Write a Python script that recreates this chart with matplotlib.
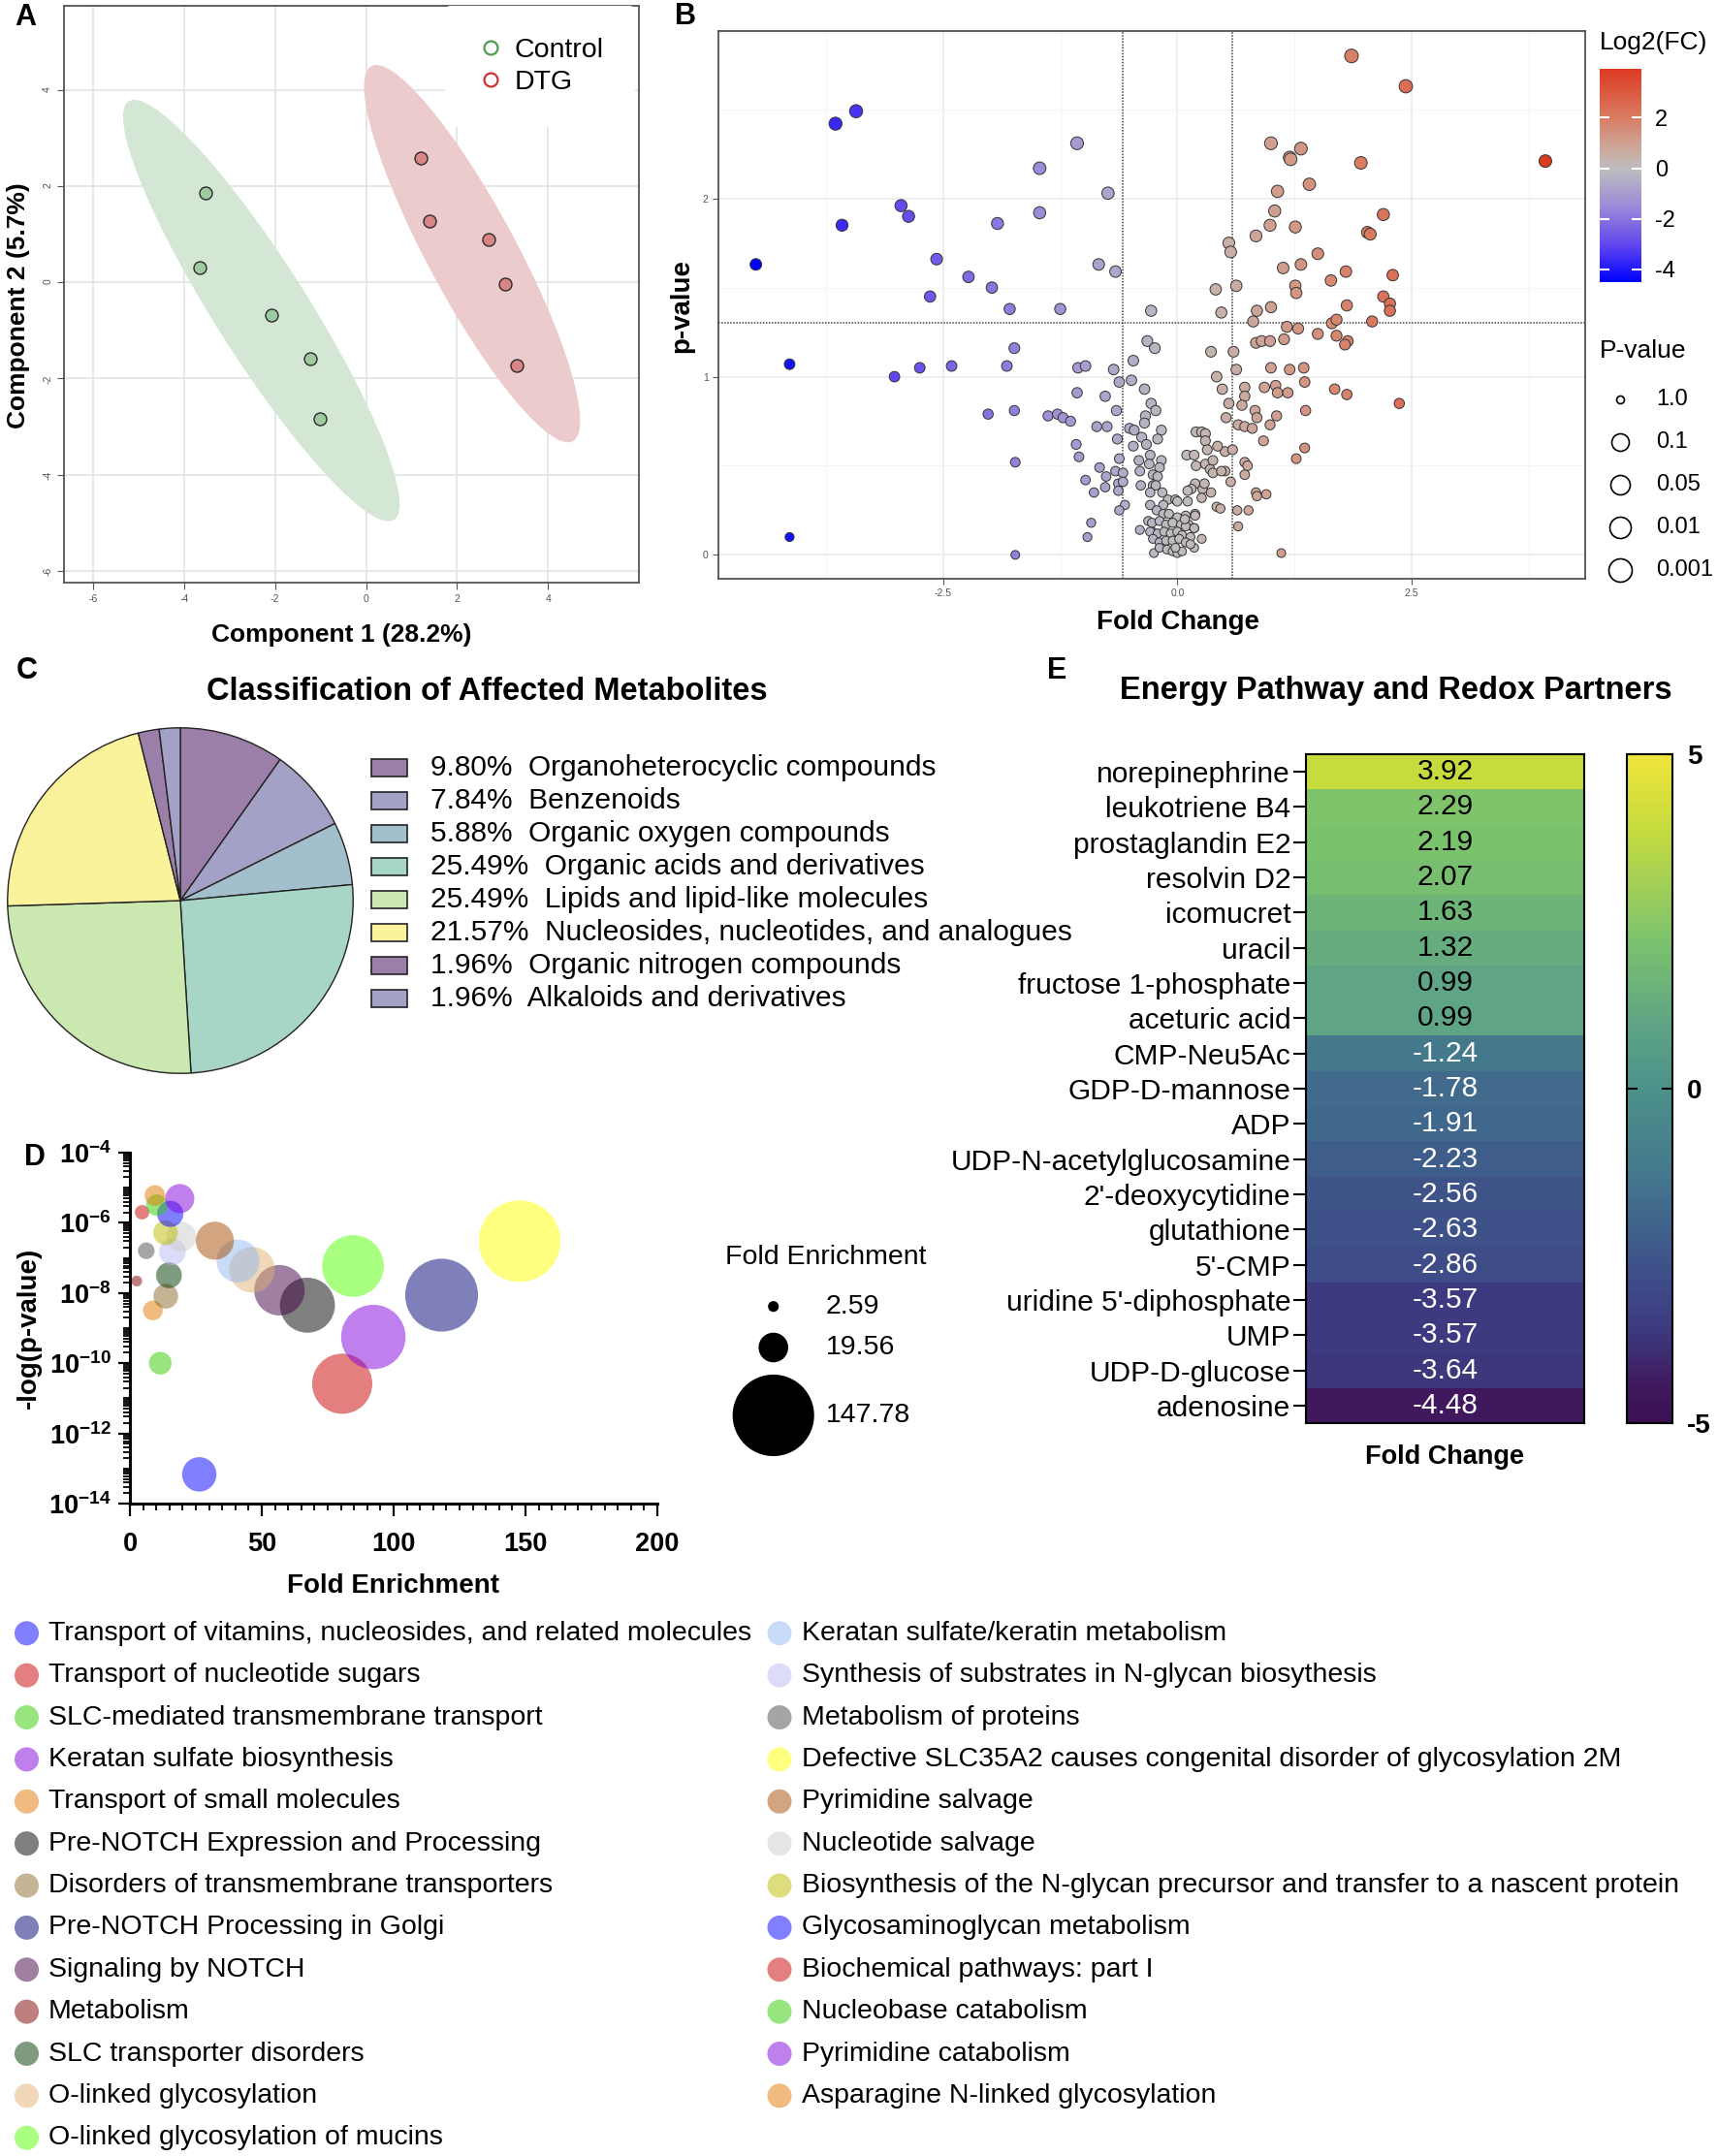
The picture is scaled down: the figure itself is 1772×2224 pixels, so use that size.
import numpy as np
import matplotlib
matplotlib.use("Agg")
import matplotlib.pyplot as plt
from matplotlib.patches import Ellipse, Rectangle
from matplotlib.colors import LinearSegmentedColormap, Normalize
from matplotlib.lines import Line2D
import matplotlib.ticker as mticker

plt.rcParams['font.family'] = ['Liberation Sans', 'DejaVu Sans']
plt.rcParams['mathtext.fontset'] = 'custom'
plt.rcParams['mathtext.rm'] = 'Liberation Sans'
plt.rcParams['mathtext.bf'] = 'Liberation Sans:bold'
plt.rcParams['axes.unicode_minus'] = False

# ======================= DATA =======================
# A: PLS-DA scores
control_comp1 = [-3.53, -3.65, -2.07, -1.23, -1.02]
control_comp2 = [1.86, 0.30, -0.68, -1.59, -2.83]
dtg_comp1 = [1.20, 1.40, 2.69, 3.05, 3.32]
dtg_comp2 = [2.58, 1.27, 0.89, -0.03, -1.73]
group_names = ["Control", "DTG"]
comp1_label = "Component 1 (28.2%)"
comp2_label = "Component 2 (5.7%)"

# B: volcano (log2 fold change, -log10 p)
volcano_log2fc = [
    -3.43, -3.65, -1.07, -1.47, -0.74, -2.95, -2.87, -3.58, -1.92, -1.47,
    -4.50, -2.57, -0.84, -0.66, -2.23, -1.98, -2.64, -1.79, -1.25, -0.28,
    -4.14, -3.02, -2.75, -2.41, -1.82, -1.74, -2.02, -1.74, -1.38, -1.28,
    -1.22, -1.14, -1.73, -4.14, -1.73, -1.06, -0.98, -0.68, -0.47, -0.32,
    -0.24, -0.62, -0.49, -1.07, -0.77, -0.35, -0.65, -0.28, -0.23, -0.34,
    -0.35, -0.86, -0.75, -0.51, -0.46, -0.64, -0.47, -0.38, -0.33, -1.08,
    -1.05, -0.62, -0.41, -0.29, -0.30, -0.83, -0.66, -0.76, -0.58, -0.40,
    -0.98, -0.63, -0.58, -0.77, -0.63, -0.89, -0.39, -0.26, -0.56, -0.62,
    -0.92, -0.96, -0.40, -0.27, -0.25, -0.18, -0.31,
    -0.17, -0.21, -0.17, -0.19, -0.26, -0.21, -0.23, -0.29, -0.16, -0.10,
    -0.02, -0.15, -0.29, -0.22, -0.15, -0.09, 0.00, 0.09, 0.19, -0.27,
    -0.19, -0.12, -0.05, 0.04, 0.12, 0.18, -0.29, -0.21, -0.14, -0.07,
    0.00, 0.05, 0.14, -0.26, -0.19, -0.12, -0.05, 0.02, 0.09, 0.18,
    -0.19, -0.11, -0.05, 0.00, 0.05, -0.02, 0.27, 0.11, 0.14, 0.09,
    0.51, 0.51,
    1.86, 2.44, 3.93, 1.00, 1.32, 1.20, 1.21, 1.96, 1.41, 1.07,
    1.04, 0.99, 1.26, 0.84, 2.20, 2.03, 2.06, 0.55, 0.57, 1.50,
    1.13, 1.32, 1.80, 1.64, 2.30, 0.41, 0.63, 1.26, 1.27, 2.20,
    2.27, 2.27, 1.81, 1.00, 0.85, 0.47,
    0.81, 1.65, 1.70, 2.08, 1.17, 1.29, 1.50, 1.70, 1.82, 1.79,
    1.14, 0.84, 0.90, 0.99, 0.36, 0.60, 0.63, 1.00, 1.20, 1.35,
    1.36, 0.42, 0.48, 0.72, 0.72, 0.93, 1.05, 1.07, 1.18, 1.68,
    1.81, 2.37, 0.55, 0.69, 0.83, 0.85, 1.06, 1.37, 0.52, 0.65,
    0.72, 0.80, 0.99, 0.59, 0.43, 0.92, 1.36, 1.27, 0.72, 0.75,
    0.72, 0.57, 0.84, 0.95, 0.85, 0.64, 0.76, 0.65, 1.11, 0.20,
    0.26, 0.30, 0.30, 0.32, 0.10, 0.18, 0.20, 0.30, 0.38, 0.35,
    0.38, 0.47, 0.19, 0.29, 0.15, 0.11, 0.26, 0.36, 0.42, 0.46,
    0.19, 0.08, 0.18, 0.26, 0.00,
]
volcano_neglog10p = [
    2.49, 2.42, 2.31, 2.17, 2.03, 1.96, 1.90, 1.85, 1.86, 1.92,
    1.63, 1.66, 1.63, 1.59, 1.56, 1.50, 1.45, 1.38, 1.38, 1.37,
    1.07, 1.00, 1.05, 1.06, 1.06, 1.16, 0.79, 0.81, 0.78, 0.79,
    0.77, 0.75, 0.52, 0.10, 0.00, 1.05, 1.06, 1.04, 1.09, 1.20,
    1.16, 0.97, 0.98, 0.91, 0.89, 0.93, 0.81, 0.85, 0.81, 0.78,
    0.74, 0.72, 0.72, 0.71, 0.70, 0.65, 0.61, 0.66, 0.62, 0.62,
    0.55, 0.54, 0.53, 0.56, 0.51, 0.49, 0.47, 0.44, 0.46, 0.47,
    0.42, 0.40, 0.41, 0.38, 0.36, 0.35, 0.39, 0.39, 0.28, 0.25,
    0.18, 0.10, 0.14, 0.13, 0.01, 0.05, 0.19,
    0.70, 0.65, 0.53, 0.49, 0.45, 0.44, 0.39, 0.35, 0.35, 0.31,
    0.31, 0.28, 0.28, 0.25, 0.23, 0.23, 0.21, 0.22, 0.23, 0.18,
    0.19, 0.17, 0.18, 0.17, 0.17, 0.15, 0.13, 0.12, 0.13, 0.12,
    0.13, 0.11, 0.10, 0.09, 0.07, 0.08, 0.08, 0.09, 0.07, 0.04,
    0.04, 0.03, 0.02, 0.01, 0.02, 0.04, 0.37, 0.30, 0.06, 0.16,
    0.47, 0.58,
    2.80, 2.63, 2.21, 2.31, 2.28, 2.23, 2.22, 2.20, 2.08, 2.04,
    1.93, 1.85, 1.84, 1.79, 1.91, 1.81, 1.80, 1.75, 1.70, 1.69,
    1.61, 1.63, 1.59, 1.54, 1.57, 1.49, 1.51, 1.51, 1.47, 1.45,
    1.41, 1.37, 1.40, 1.39, 1.37, 1.36,
    1.31, 1.30, 1.32, 1.31, 1.28, 1.27, 1.24, 1.23, 1.20, 1.18,
    1.21, 1.19, 1.20, 1.20, 1.14, 1.14, 1.04, 1.05, 1.04, 1.05,
    0.97, 1.00, 0.93, 0.94, 0.89, 0.94, 0.95, 0.91, 0.91, 0.93,
    0.90, 0.85, 0.85, 0.84, 0.81, 0.77, 0.78, 0.81, 0.77, 0.73,
    0.72, 0.71, 0.73, 0.59, 0.61, 0.64, 0.60, 0.54, 0.52, 0.50,
    0.45, 0.41, 0.35, 0.34, 0.33, 0.25, 0.25, 0.16, 0.01, 0.69,
    0.69, 0.68, 0.64, 0.59, 0.56, 0.56, 0.50, 0.51, 0.53, 0.48,
    0.46, 0.47, 0.40, 0.40, 0.37, 0.36, 0.32, 0.35, 0.27, 0.26,
    0.22, 0.20, 0.15, 0.09, 0.30,
]
fc_cutoff = 1.5
p_cutoff = 0.05
log2fc_ticks = [-4, -2, 0, 2]
pvalue_legend = ["1.0", "0.1", "0.05", "0.01", "0.001"]

# C: classification
class_names = ["Organoheterocyclic compounds", "Benzenoids", "Organic oxygen compounds",
               "Organic acids and derivatives", "Lipids and lipid-like molecules",
               "Nucleosides, nucleotides, and analogues", "Organic nitrogen compounds",
               "Alkaloids and derivatives"]
class_pct = [9.80, 7.84, 5.88, 25.49, 25.49, 21.57, 1.96, 1.96]

# D: pathway enrichment
pathway_names = [
    "Transport of vitamins, nucleosides, and related molecules",
    "Transport of nucleotide sugars",
    "SLC-mediated transmembrane transport",
    "Keratan sulfate biosynthesis",
    "Transport of small molecules",
    "Pre-NOTCH Expression and Processing",
    "Disorders of transmembrane transporters",
    "Pre-NOTCH Processing in Golgi",
    "Signaling by NOTCH",
    "Metabolism",
    "SLC transporter disorders",
    "O-linked glycosylation",
    "O-linked glycosylation of mucins",
    "Keratan sulfate/keratin metabolism",
    "Synthesis of substrates in N-glycan biosythesis",
    "Metabolism of proteins",
    "Defective SLC35A2 causes congenital disorder of glycosylation 2M",
    "Pyrimidine salvage",
    "Nucleotide salvage",
    "Biosynthesis of the N-glycan precursor and transfer to a nascent protein",
    "Glycosaminoglycan metabolism",
    "Biochemical pathways: part I",
    "Nucleobase catabolism",
    "Pyrimidine catabolism",
    "Asparagine N-linked glycosylation",
]
pathway_fold_enrichment = [26.3, 80.5, 11.5, 92.3, 8.7, 67.3, 13.6, 118.2, 56.7, 2.59,
                           14.8, 46.3, 84.6, 41.0, 16.1, 6.2, 147.78, 32.2, 19.56, 13.5,
                           15.3, 4.6, 10.2, 18.9, 9.5]
pathway_pvalue = [6.8e-14, 2.6e-11, 1.0e-10, 5.6e-10, 3.2e-9, 4.5e-9, 8.1e-9, 8.7e-9, 1.2e-8, 2.2e-8,
                  3.2e-8, 4.6e-8, 5.9e-8, 8.1e-8, 1.5e-7, 1.6e-7, 3.0e-7, 3.1e-7, 4.0e-7, 5.2e-7,
                  1.8e-6, 2.0e-6, 3.2e-6, 4.9e-6, 6.0e-6]
fe_legend = [2.59, 19.56, 147.78]

# E: energy pathway heatmap
metabolites = ["norepinephrine", "leukotriene B4", "prostaglandin E2", "resolvin D2", "icomucret",
               "uracil", "fructose 1-phosphate", "aceturic acid", "CMP-Neu5Ac", "GDP-D-mannose",
               "ADP", "UDP-N-acetylglucosamine", "2'-deoxycytidine", "glutathione", "5'-CMP",
               "uridine 5'-diphosphate", "UMP", "UDP-D-glucose", "adenosine"]
metabolite_fc = [3.92, 2.29, 2.19, 2.07, 1.63, 1.32, 0.99, 0.99, -1.24, -1.78,
                 -1.91, -2.23, -2.56, -2.63, -2.86, -3.57, -3.57, -3.64, -4.48]
heat_range = (-5, 5)

# ======================= STYLE =======================
class_colors = ['#9b7fa8', '#a3a1c5', '#a3bfcb', '#a8d6c6', '#cbe8b0', '#fbf29c', '#9b7fa8', '#a3a1c5']
pathway_colors = ['#0000ff', '#c80000', '#33cc00', '#8000dd', '#e07800', '#000000', '#8a6a28',
                  '#000077', '#410047', '#7f0000', '#003800', '#e1b171', '#55ff00', '#92baf2',
                  '#babaf5', '#4d4d4d', '#ffff00', '#a74b00', '#cccccc', '#bdbd00', '#0000ff',
                  '#c80000', '#33cc00', '#8000dd', '#e07800']
BUBBLE_ALPHA = 0.5
BUBBLE_SCALE = 24.8  # points^2 per fold-enrichment unit
# muted viridis-like scale used by the heatmap (position in [0,1], colour)
heat_cmap = LinearSegmentedColormap.from_list('muted_viridis', [
    (0.00, '#3b0f53'), (0.052, '#40195e'), (0.14, '#3d3a7f'), (0.21, '#3e4c88'),
    (0.28, '#3f5f8c'), (0.38, '#457a8d'), (0.50, '#4c918a'), (0.60, '#5fa585'),
    (0.66, '#6db479'), (0.72, '#7bc26e'), (0.89, '#c6db3e'), (1.00, '#efe43a')])

W, H, DPI = 1772, 2224, 100
PT = 72.0 / DPI
fig = plt.figure(figsize=(W / DPI, H / DPI), dpi=DPI)
fig.patch.set_facecolor('white')


def px_box(l, t, r, b):
    return [l / W, 1 - b / H, (r - l) / W, (b - t) / H]


# ======================= PANEL A =======================
axA = fig.add_axes(px_box(66, 6, 659, 601))


def conf_ellipse(x, y, **kw):
    x = np.asarray(x, float)
    y = np.asarray(y, float)
    vals, vecs = np.linalg.eigh(np.cov(x, y))
    order = vals.argsort()[::-1]
    vals, vecs = vals[order], vecs[:, order]
    angle = np.degrees(np.arctan2(vecs[1, 0], vecs[0, 0]))
    k = np.sqrt(5.991)  # 95% chi-square, 2 dof
    return Ellipse((x.mean(), y.mean()), 2 * k * np.sqrt(vals[0]), 2 * k * np.sqrt(vals[1]),
                   angle=angle, **kw)


axA.add_patch(conf_ellipse(control_comp1, control_comp2, facecolor='#d4e6d4', edgecolor='none', zorder=1))
axA.add_patch(conf_ellipse(dtg_comp1, dtg_comp2, facecolor='#ebcbcb', edgecolor='none', zorder=1))
axA.scatter(control_comp1, control_comp2, s=(13 * PT) ** 2, c='#9fc99f', edgecolors='#2b2b2b',
            linewidths=1.0, zorder=3)
axA.scatter(dtg_comp1, dtg_comp2, s=(13 * PT) ** 2, c='#d98585', edgecolors='#2b2b2b',
            linewidths=1.0, zorder=3)
axA.set_xlim(-6.64, 6.0)
axA.set_ylim(-6.245, 5.75)
axA.set_xticks(np.arange(-6, 5, 2))
axA.set_yticks(np.arange(-6, 5, 2))
axA.grid(True, color='#e3e3e3', lw=1.2)
axA.set_axisbelow(True)
axA.tick_params(labelsize=7.5, colors='#555555', length=5)
axA.tick_params(axis='y', labelrotation=90)
for sp in axA.spines.values():
    sp.set_color('#555555')
    sp.set_linewidth(1.3)
axA.set_xlabel(comp1_label, fontsize=19, fontweight='bold')
axA.xaxis.set_label_coords((352.7 - 66) / 593, (601 - 655) / 595)
axA.xaxis.label.set_va('center')
axA.set_ylabel(comp2_label, fontsize=19, fontweight='bold')
axA.yaxis.set_label_coords((18.7 - 66) / 593, (601 - 315) / 595)
axA.yaxis.label.set_va('center')
hA = [Line2D([], [], marker='o', ls='', mfc='none', mec='#4f9a4f', mew=1.6, ms=10, label=group_names[0]),
      Line2D([], [], marker='o', ls='', mfc='none', mec='#cc3333', mew=1.6, ms=10, label=group_names[1])]
legA = axA.legend(handles=hA, loc='upper right', bbox_to_anchor=((655 - 66) / 593, 1.0),
                  borderaxespad=0.0, fontsize=20.5, frameon=True, facecolor='white', edgecolor='none',
                  framealpha=1, handletextpad=0.35, labelspacing=0.25, borderpad=1.15, handlelength=1.0)

# ======================= PANEL B =======================
axB = fig.add_axes(px_box(741, 32, 1635, 597))
fc = np.array(volcano_log2fc)
nlp = np.array(volcano_neglog10p)
vmin, vmax = fc.min(), fc.max()
anchor_vals = [vmin, -3.0, -1.5, 0.0, 1.0, 2.0, vmax]
anchor_cols = ['#0000ff', '#6448ee', '#9c8ad8', '#bebebe', '#d0a192', '#d97c62', '#dd3a22']
cmapB = LinearSegmentedColormap.from_list(
    'volc', [((v - vmin) / (vmax - vmin), c) for v, c in zip(anchor_vals, anchor_cols)])
normB = Normalize(vmin, vmax)
sizesB = ((9 + 1.8 * nlp) * PT) ** 2
scB = axB.scatter(fc, nlp, c=fc, cmap=cmapB, norm=normB, s=sizesB, edgecolors='#333333',
                  linewidths=0.7, zorder=3)
for xv in (-np.log2(fc_cutoff), np.log2(fc_cutoff)):
    axB.axvline(xv, color='#444444', ls=(0, (1, 1)), lw=1.1, zorder=2)
axB.axhline(-np.log10(p_cutoff), color='#444444', ls=(0, (1, 1)), lw=1.1, zorder=2)
axB.set_xlim(-4.90, 4.355)
axB.set_ylim(-0.134, 2.94)
axB.set_xticks([-2.5, 0, 2.5])
axB.set_yticks([0, 1, 2])
axB.xaxis.set_major_formatter(mticker.FormatStrFormatter('%.1f'))
axB.xaxis.set_minor_locator(mticker.MultipleLocator(1.25))
axB.yaxis.set_minor_locator(mticker.MultipleLocator(0.5))
axB.grid(which='major', color='#ebebeb', lw=1.2)
axB.grid(which='minor', color='#f4f4f4', lw=0.8)
axB.set_axisbelow(True)
axB.tick_params(which='minor', length=0)
axB.tick_params(labelsize=7.5, colors='#555555', length=4)
for sp in axB.spines.values():
    sp.set_color('#444444')
    sp.set_linewidth(1.2)
axB.set_xlabel("Fold Change", fontsize=20, fontweight='bold')
axB.xaxis.set_label_coords((1214.8 - 741) / 894, (597 - 642) / 565)
axB.xaxis.label.set_va('center')
axB.set_ylabel("p-value", fontsize=20, fontweight='bold')
axB.yaxis.set_label_coords((703 - 741) / 894, (597 - 315) / 565)
axB.yaxis.label.set_va('center')

caxB = fig.add_axes(px_box(1650, 71, 1693, 291))
cbB = fig.colorbar(scB, cax=caxB, ticks=log2fc_ticks)
cbB.outline.set_visible(False)
caxB.tick_params(direction='in', color='white', width=1.5, length=7, labelsize=17,
                 left=True, right=True, pad=10)

# ======================= PANEL C =======================
axC = fig.add_axes(px_box(6, 749, 366, 1109))
wedgesC, _ = axC.pie(class_pct, colors=class_colors, startangle=90, counterclock=False,
                     wedgeprops=dict(edgecolor='#222222', linewidth=1.0))
axC.set_xlim(-1.01, 1.01)
axC.set_ylim(-1.01, 1.01)
axC.set_aspect('equal')
axC.axis('off')

# ======================= PANEL D =======================
axD = fig.add_axes(px_box(134, 1189, 678, 1551))
fe = np.array(pathway_fold_enrichment)
axD.scatter(fe, pathway_pvalue, s=fe * BUBBLE_SCALE, c=pathway_colors, alpha=BUBBLE_ALPHA,
            edgecolors='none', clip_on=False, zorder=3)
axD.set_yscale('log')
axD.set_xlim(0, 200)
axD.set_ylim(1e-14, 1e-4)
for s in ('top', 'right'):
    axD.spines[s].set_visible(False)
for s in ('left', 'bottom'):
    axD.spines[s].set_linewidth(2.2)
xt = [0, 50, 100, 150, 200]
axD.set_xticks(xt, labels=[str(v) for v in xt], fontweight='bold', fontsize=19.5)
yexp = [-14, -12, -10, -8, -6, -4]
axD.set_yticks([10.0 ** e for e in yexp], labels=[r'$\mathbf{10^{%d}}$' % e for e in yexp], fontsize=19.5)
axD.xaxis.set_minor_locator(mticker.MultipleLocator(5))
axD.yaxis.set_minor_locator(mticker.LogLocator(base=10, subs=np.arange(1, 10), numticks=60))
axD.yaxis.set_minor_formatter(mticker.NullFormatter())
axD.tick_params(which='major', length=9, width=1.6, pad=5)
axD.tick_params(axis='x', which='major', pad=12)
axD.tick_params(which='minor', length=5, width=1.3)
axD.set_xlabel("Fold Enrichment", fontsize=20, fontweight='bold')
axD.xaxis.set_label_coords((405 - 134) / 544, (1551 - 1636) / 362)
axD.xaxis.label.set_va('center')
axD.set_ylabel("-log(p-value)", fontsize=20, fontweight='bold')
axD.yaxis.set_label_coords((30 - 134) / 544, 0.5)
axD.yaxis.label.set_va('center')

# ======================= PANEL E =======================
axE = fig.add_axes(px_box(1347, 778, 1634, 1468))
valsE = np.array(metabolite_fc)[:, None]
imE = axE.imshow(valsE, aspect='auto', cmap=heat_cmap, vmin=heat_range[0], vmax=heat_range[1],
                 interpolation='nearest')
axE.set_yticks(np.arange(len(metabolites)), labels=metabolites, fontsize=21.5)
axE.set_xticks([])
axE.tick_params(axis='y', length=9.4, width=1.5, pad=2)
for sp in axE.spines.values():
    sp.set_linewidth(1.5)
for i, v in enumerate(metabolite_fc):
    axE.text(0, i, f"{v:.2f}", ha='center', va='center', fontsize=21.5,
             color='black' if v > 0 else 'white')
axE.set_xlabel("Fold Change", fontsize=19.5, fontweight='bold')
axE.xaxis.set_label_coords((1490 - 1347) / 287, (1468 - 1503) / 690)
axE.xaxis.label.set_va('center')

caxE = fig.add_axes(px_box(1678, 778, 1725, 1468))
cbE = fig.colorbar(imE, cax=caxE)
cbE.outline.set_linewidth(1.5)
caxE.set_yticks([-5, 0, 5], labels=['-5', '0', '5'], fontweight='bold', fontsize=20)
caxE.tick_params(direction='in', length=8, width=1.5, left=True, right=True, pad=11)

# ======================= OVERLAY (titles, legends, panel labels) =======================
ov = fig.add_axes([0, 0, 1, 1], zorder=10)
ov.set_xlim(0, W)
ov.set_ylim(H, 0)
ov.axis('off')

for lab, (x, y) in zip("ABCDE", [(26, 18), (707, 17), (28, 692), (36, 1194), (1090, 692)]):
    ov.text(x, y, lab, fontsize=22, fontweight='bold', ha='center', va='center')

# B colour-bar title and size legend
ov.text(1650, 44, "Log2(FC)", fontsize=19, ha='left', va='center')
ov.text(1650, 362, "P-value", fontsize=19, ha='left', va='center')
legB_diam_px = [8, 18, 20, 22, 24]
for j, (lab, d) in enumerate(zip(pvalue_legend, legB_diam_px)):
    yy = 412 + j * 44
    ov.scatter([1671], [yy], s=(d * PT) ** 2, facecolors='white', edgecolors='black', linewidths=1.2)
    ov.text(1708, yy, lab, fontsize=17, ha='left', va='center')

# C title + legend
ov.text(502, 713, "Classification of Affected Metabolites", fontsize=23.5, fontweight='bold',
        ha='center', va='center')
for i, (nm, pc, col) in enumerate(zip(class_names, class_pct, class_colors)):
    yy = 792.3 + i * 34.0
    ov.add_patch(Rectangle((383, yy - 9), 37, 18, facecolor=col, edgecolor='#222222', lw=1.2))
    ov.text(444, yy, f"{pc:.2f}%  {nm}", fontsize=21.5, ha='left', va='center')

# D size legend
ov.text(852, 1297, "Fold Enrichment", fontsize=20.5, ha='center', va='center')
for yy, v in zip([1347.7, 1390, 1460], fe_legend):
    ov.scatter([797.7], [yy], s=v * BUBBLE_SCALE, c='black', edgecolors='none')
    ov.text(851.7, yy, f"{v:.2f}", fontsize=20.5, ha='left', va='center')

# D pathway legend (two columns)
n_left = 13
for i, (nm, col) in enumerate(zip(pathway_names, pathway_colors)):
    if i < n_left:
        mx, tx, row = 27.5, 50, i
    else:
        mx, tx, row = 804, 827.5, i - n_left
    yy = 1684.8 + row * 43.37
    ov.scatter([mx], [yy], s=(25 * PT) ** 2, c=col, alpha=BUBBLE_ALPHA, edgecolors='none')
    ov.text(tx, yy, nm, fontsize=20.5, ha='left', va='center')

# E title
ov.text(1440, 713, "Energy Pathway and Redox Partners", fontsize=23.5, fontweight='bold',
        ha='center', va='center')

fig.savefig("out.png", dpi=DPI)
